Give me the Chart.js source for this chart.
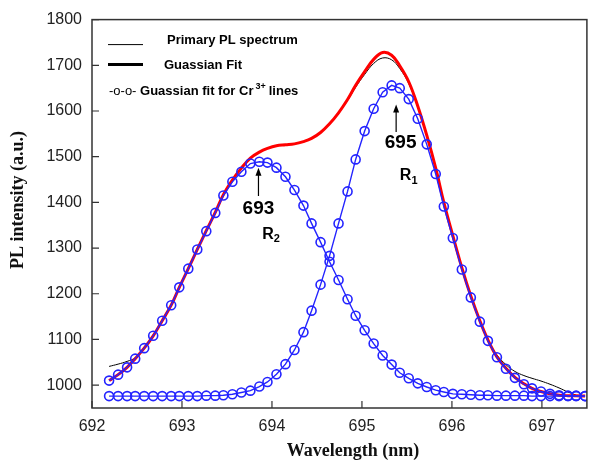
<!DOCTYPE html>
<html>
<head>
<meta charset="utf-8">
<script src="https://cdn.jsdelivr.net/npm/chart.js@4.4.0/dist/chart.umd.min.js"></script>
<style>
  html, body { margin: 0; padding: 0; background: #fff; }
</style>
</head>
<body>
<canvas id="chart" width="593" height="463"></canvas>
<script>
// wavelength grid (nm) shared by every series
const wavelength = [
    692.19, 692.29, 692.39, 692.48, 692.58, 692.68, 692.78, 692.88, 692.97, 693.07,
    693.17, 693.27, 693.37, 693.46, 693.56, 693.66, 693.76, 693.86, 693.95, 694.05,
    694.15, 694.25, 694.35, 694.44, 694.54, 694.64, 694.74, 694.84, 694.93, 695.03,
    695.13, 695.23, 695.33, 695.42, 695.52, 695.62, 695.72, 695.82, 695.91, 696.01,
    696.11, 696.21, 696.31, 696.40, 696.50, 696.60, 696.70, 696.80, 696.89, 696.99,
    697.09, 697.19, 697.29, 697.38, 697.48
];

const primarySpectrum = [
    1041, 1046, 1052, 1060, 1082, 1108, 1141, 1175, 1214, 1255,
    1297, 1338, 1378, 1417, 1449, 1475, 1497, 1510, 1518, 1524,
    1526, 1528, 1533, 1540, 1553, 1572, 1595, 1623, 1652, 1680,
    1704, 1716, 1712, 1693, 1660, 1608, 1546, 1475, 1400, 1327,
    1257, 1195, 1141, 1099, 1066, 1045, 1030, 1021, 1015, 1009,
    1002, 994, 985, 978, null
];

const gaussianFit = [
    1010, 1023, 1039, 1058, 1081, 1108, 1141, 1175, 1214, 1255,
    1297, 1338, 1378, 1417, 1449, 1475, 1497, 1510, 1518, 1524,
    1526, 1528, 1533, 1540, 1553, 1572, 1596, 1625, 1656, 1686,
    1713, 1728, 1722, 1699, 1664, 1611, 1547, 1475, 1400, 1327,
    1257, 1195, 1141, 1099, 1062, 1037, 1017, 1003, 993, 986,
    981, 978, 977, 977, 976
];

// R2 line (693 nm)
const fitR2 = [
    1010, 1023, 1039, 1058, 1081, 1108, 1141, 1175, 1214, 1255,
    1297, 1337, 1377, 1415, 1445, 1467, 1485, 1489, 1487, 1476,
    1456, 1427, 1393, 1354, 1313, 1270, 1230, 1188, 1152, 1120,
    1091, 1065, 1045, 1027, 1015, 1004, 996, 989, 985, 981,
    980, 979, 978, 978, 977, 977, 977, 977, 976, 976,
    976, 976, 976, 976, 976
];

// R1 line (695 nm)
const fitR1 = [
    976, 976, 976, 976, 976, 976, 976, 976, 976, 976,
    976, 977, 977, 978, 980, 984, 988, 997, 1007, 1024,
    1046, 1077, 1116, 1163, 1220, 1283, 1354, 1424, 1494, 1556,
    1605, 1641, 1656, 1650, 1626, 1583, 1527, 1462, 1391, 1322,
    1253, 1192, 1139, 1097, 1061, 1036, 1016, 1002, 993, 986,
    981, 978, 977, 977, 976
];

const xTicks = [692, 693, 694, 695, 696, 697];
const yTicks = [1000, 1100, 1200, 1300, 1400, 1500, 1600, 1700, 1800];

const BLUE = '#2424ff';
const AXIS = '#333333';
const SANS = '"Liberation Sans", Arial, sans-serif';
const SERIF = '"Liberation Serif", "Times New Roman", serif';

const points = ys => wavelength.map((x, i) => ({ x, y: ys[i] }));

// frame, inward ticks, legend, labels and axis titles
const decorations = {
    id: 'decorations',
    afterDatasetsDraw(chart) {
        const { ctx, chartArea: a, scales: { x, y } } = chart;
        ctx.save();

        ctx.strokeStyle = AXIS;
        ctx.lineWidth = 1.5;
        ctx.strokeRect(a.left, a.top, a.right - a.left, a.bottom - a.top);

        ctx.lineWidth = 1.2;
        ctx.beginPath();
        xTicks.forEach(v => {
            const px = x.getPixelForValue(v);
            ctx.moveTo(px, a.bottom);
            ctx.lineTo(px, a.bottom - 7);
        });
        yTicks.forEach(v => {
            const py = y.getPixelForValue(v);
            ctx.moveTo(a.left, py);
            ctx.lineTo(a.left + 7, py);
        });
        ctx.stroke();

        // legend
        const lx = a.left + 16;
        ctx.strokeStyle = '#000';
        ctx.lineWidth = 1;
        ctx.beginPath();
        ctx.moveTo(lx, a.top + 25);
        ctx.lineTo(lx + 35, a.top + 25);
        ctx.stroke();
        ctx.lineWidth = 3;
        ctx.beginPath();
        ctx.moveTo(lx, a.top + 45);
        ctx.lineTo(lx + 35, a.top + 45);
        ctx.stroke();

        ctx.fillStyle = '#000';
        ctx.textBaseline = 'middle';
        ctx.textAlign = 'left';
        ctx.font = 'bold 13px ' + SANS;
        ctx.fillText('Primary PL spectrum', a.left + 75, a.top + 21);
        ctx.fillText('Guassian Fit', a.left + 72, a.top + 46);

        let tx = a.left + 17;
        const ty = a.top + 72;
        ctx.font = '13px ' + SANS;
        ctx.fillText('-o-o-', tx, ty);
        tx += ctx.measureText('-o-o- ').width;
        ctx.font = 'bold 13px ' + SANS;
        ctx.fillText('Guassian fit for Cr', tx, ty);
        tx += ctx.measureText('Guassian fit for Cr').width + 2;
        ctx.font = 'bold 9px ' + SANS;
        ctx.fillText('3+', tx, ty - 5);
        tx += ctx.measureText('3+').width + 3;
        ctx.font = 'bold 13px ' + SANS;
        ctx.fillText('lines', tx, ty);

        // peak labels with arrows
        const arrow = (wx, yFrom, yTo) => {
            const px = x.getPixelForValue(wx);
            const p1 = y.getPixelForValue(yFrom);
            const p2 = y.getPixelForValue(yTo);
            ctx.strokeStyle = '#000';
            ctx.lineWidth = 1.2;
            ctx.beginPath();
            ctx.moveTo(px, p1);
            ctx.lineTo(px, p2 + 4);
            ctx.stroke();
            ctx.beginPath();
            ctx.moveTo(px, p2);
            ctx.lineTo(px - 3, p2 + 8);
            ctx.lineTo(px + 3, p2 + 8);
            ctx.closePath();
            ctx.fill();
        };
        const label = (name, sub, wx, wy) => {
            const px = x.getPixelForValue(wx);
            const py = y.getPixelForValue(wy);
            ctx.textAlign = 'left';
            ctx.font = 'bold 16px ' + SANS;
            const w = ctx.measureText(name).width;
            ctx.fillText(name, px - 8, py);
            ctx.font = 'bold 11px ' + SANS;
            ctx.fillText(sub, px - 8 + w, py + 5);
        };

        arrow(693.85, 1414, 1476);
        arrow(695.38, 1554, 1614);
        ctx.textAlign = 'center';
        ctx.font = 'bold 19px ' + SANS;
        ctx.fillText('693', x.getPixelForValue(693.85), y.getPixelForValue(1386));
        ctx.fillText('695', x.getPixelForValue(695.43), y.getPixelForValue(1530));
        label('R', '2', 693.98, 1330);
        label('R', '1', 695.51, 1458);

        // axis titles
        ctx.fillStyle = '#111';
        ctx.textAlign = 'center';
        ctx.font = 'bold 18px ' + SERIF;
        ctx.fillText('Wavelength (nm)', 353, 451);
        ctx.translate(18, 200);
        ctx.rotate(-Math.PI / 2);
        ctx.fillText('PL intensity (a.u.)', 0, 0);

        ctx.restore();
    }
};

const blueSeries = (label, values, order) => ({
    label,
    data: points(values),
    borderColor: BLUE,
    borderWidth: 1.4,
    pointRadius: 4.5,
    pointBorderWidth: 1.6,
    pointBorderColor: BLUE,
    pointBackgroundColor: 'rgba(0,0,0,0)',
    tension: 0,
    order
});

new Chart(document.getElementById('chart'), {
    type: 'line',
    data: {
        datasets: [
            blueSeries('Guassian fit for Cr3+ lines (R2)', fitR2, 0),
            blueSeries('Guassian fit for Cr3+ lines (R1)', fitR1, 1),
            {
                label: 'Guassian Fit',
                data: points(gaussianFit),
                borderColor: '#ff0000',
                borderWidth: 3,
                pointRadius: 0,
                tension: 0.4,
                order: 2
            },
            {
                label: 'Primary PL spectrum',
                data: points(primarySpectrum),
                borderColor: '#000000',
                borderWidth: 1,
                pointRadius: 0,
                tension: 0.4,
                order: 3
            }
        ]
    },
    options: {
        responsive: false,
        animation: false,
        devicePixelRatio: 1,
        layout: { padding: { left: 0, top: 17, right: 1, bottom: 0 } },
        plugins: {
            legend: { display: false },
            tooltip: { enabled: false }
        },
        scales: {
            x: {
                type: 'linear',
                min: 692,
                max: 697.5,
                afterBuildTicks: scale => { scale.ticks = xTicks.map(value => ({ value })); },
                afterFit: scale => { scale.height = 55; },
                grid: { display: false, drawTicks: false },
                border: { display: false },
                ticks: {
                    padding: 9,
                    color: '#222',
                    font: { family: SANS, size: 16 },
                    maxRotation: 0,
                    callback: v => String(v)
                }
            },
            y: {
                type: 'linear',
                min: 950,
                max: 1800,
                afterBuildTicks: scale => { scale.ticks = yTicks.map(value => ({ value })); },
                afterFit: scale => { scale.width = 92; },
                grid: { display: false, drawTicks: false },
                border: { display: false },
                ticks: {
                    padding: 10,
                    color: '#222',
                    font: { family: SANS, size: 16 },
                    callback: v => String(v)
                }
            }
        }
    },
    plugins: [decorations]
});
</script>
</body>
</html>
